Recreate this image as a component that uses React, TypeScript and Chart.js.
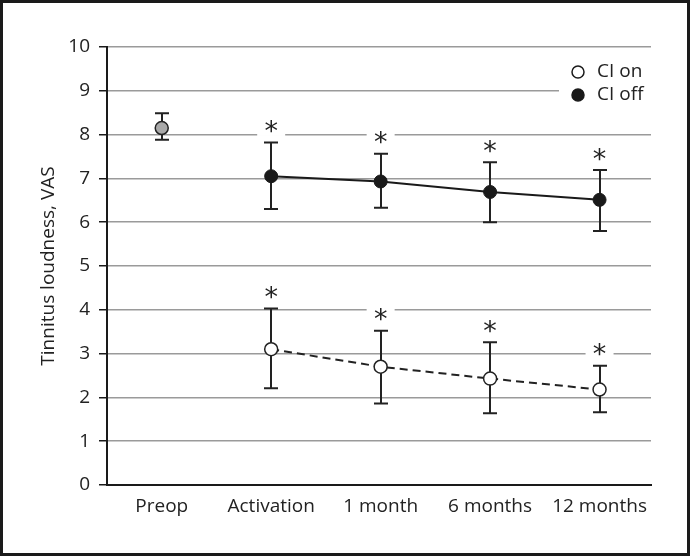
import React, { useEffect, useRef } from "react";
import { Chart, registerables } from "chart.js";

Chart.register(...registerables);

const categories = ["Preop", "Activation", "1 month", "6 months", "12 months"];
const yTicks = [0, 1, 2, 3, 4, 5, 6, 7, 8, 9, 10];

const preopMean: (number | null)[] = [8.15, null, null, null, null];
const preopUpper: (number | null)[] = [8.49, null, null, null, null];
const preopLower: (number | null)[] = [7.88, null, null, null, null];

const ciOnMean: (number | null)[] = [null, 3.1, 2.7, 2.43, 2.18];
const ciOnUpper: (number | null)[] = [null, 4.03, 3.52, 3.26, 2.72];
const ciOnLower: (number | null)[] = [null, 2.21, 1.86, 1.64, 1.66];

const ciOffMean: (number | null)[] = [null, 7.05, 6.93, 6.69, 6.51];
const ciOffUpper: (number | null)[] = [null, 7.82, 7.56, 7.37, 7.19];
const ciOffLower: (number | null)[] = [null, 6.3, 6.33, 6.0, 5.8];

const ciOnSignificant = [false, true, true, true, true];
const ciOffSignificant = [false, true, true, true, true];

const legendLabels = ["CI on", "CI off"];
const yTitle = "Tinnitus loudness, VAS";

const FONT = "'Open Sans', 'Noto Sans', sans-serif";

const toPoints = (vals: (number | null)[]) =>
  vals
    .map((v, i) => (v == null ? null : { x: i, y: v }))
    .filter((p) => p !== null) as { x: number; y: number }[];

const errorSets = [
  { upper: preopUpper, lower: preopLower, sig: [false, false, false, false, false] },
  { upper: ciOnUpper, lower: ciOnLower, sig: ciOnSignificant },
  { upper: ciOffUpper, lower: ciOffLower, sig: ciOffSignificant },
];

const decorPlugin = {
  id: "decor",
  beforeDatasetsDraw(chart: any) {
    const { ctx, scales } = chart;
    const xs = scales.x;
    const ys = scales.y;
    ctx.save();
    // asterisks with white background
    errorSets.forEach((set) => {
      set.upper.forEach((u, i) => {
        if (u == null || !set.sig[i]) return;
        const px = xs.getPixelForValue(i);
        const py = ys.getPixelForValue(u) - 15.5;
        ctx.fillStyle = "#ffffff";
        ctx.fillRect(px - 14, py - 9, 28, 18);
        ctx.fillStyle = "#222";
        ctx.font = `27px 'DejaVu Sans', sans-serif`;
        ctx.textAlign = "center";
        ctx.textBaseline = "alphabetic";
        ctx.fillText("*", px, py + 13);
      });
    });
    // error bars
    ctx.strokeStyle = "#222";
    ctx.lineWidth = 2;
    errorSets.forEach((set) => {
      set.upper.forEach((u, i) => {
        const l = set.lower[i];
        if (u == null || l == null) return;
        const px = Math.round(xs.getPixelForValue(i));
        const pu = ys.getPixelForValue(u);
        const pl = ys.getPixelForValue(l);
        ctx.beginPath();
        ctx.moveTo(px, pu);
        ctx.lineTo(px, pl);
        ctx.moveTo(px - 7, pu);
        ctx.lineTo(px + 7, pu);
        ctx.moveTo(px - 7, pl);
        ctx.lineTo(px + 7, pl);
        ctx.stroke();
      });
    });
    ctx.restore();
  },
  afterDraw(chart: any) {
    const { ctx, chartArea } = chart;
    ctx.save();
    // legend box
    const bx = chartArea.right - 92;
    ctx.fillStyle = "#ffffff";
    ctx.fillRect(bx, 56, 92, 54);
    const entries = [
      { label: legendLabels[0], fill: "#ffffff", y: 72 },
      { label: legendLabels[1], fill: "#1a1a1a", y: 95 },
    ];
    entries.forEach((e) => {
      ctx.beginPath();
      ctx.arc(578, e.y, 6, 0, Math.PI * 2);
      ctx.fillStyle = e.fill;
      ctx.fill();
      ctx.lineWidth = 1.5;
      ctx.strokeStyle = "#1a1a1a";
      ctx.stroke();
      ctx.fillStyle = "#222";
      ctx.font = `19px ${FONT}`;
      ctx.textAlign = "left";
      ctx.textBaseline = "middle";
      ctx.fillText(e.label, 597, e.y);
    });
    ctx.restore();
  },
};

export default function App() {
  const canvasRef = useRef<HTMLCanvasElement | null>(null);

  useEffect(() => {
    document.body.style.margin = "0";
    const canvas = canvasRef.current;
    if (!canvas) return;
    const chart = new Chart(canvas, {
      type: "line",
      data: {
        datasets: [
          {
            label: "Preop",
            data: toPoints(preopMean),
            showLine: false,
            pointRadius: 6.5,
            pointBackgroundColor: "#a9a9a9",
            pointBorderColor: "#222",
            pointBorderWidth: 1.5,
          },
          {
            label: legendLabels[0],
            data: toPoints(ciOnMean),
            borderColor: "#222",
            borderWidth: 2,
            borderDash: [8, 5],
            pointRadius: 6.5,
            pointBackgroundColor: "#ffffff",
            pointBorderColor: "#222",
            pointBorderWidth: 1.5,
            tension: 0,
          },
          {
            label: legendLabels[1],
            data: toPoints(ciOffMean),
            borderColor: "#1a1a1a",
            borderWidth: 2,
            pointRadius: 6.5,
            pointBackgroundColor: "#1a1a1a",
            pointBorderColor: "#1a1a1a",
            pointBorderWidth: 1,
            tension: 0,
          },
        ],
      },
      options: {
        responsive: false,
        animation: false,
        events: [],
        layout: { padding: { top: 47, left: 0, right: 39, bottom: 0 } },
        plugins: {
          legend: { display: false },
          tooltip: { enabled: false },
        },
        scales: {
          x: {
            type: "linear",
            min: -0.5,
            max: 4.47,
            grid: { display: false, drawTicks: false },
            border: { display: true, color: "#1a1a1a", width: 2 },
            afterBuildTicks: (axis: any) => {
              axis.ticks = categories.map((_, i) => ({ value: i }));
            },
            afterFit: (scale: any) => {
              scale.height = 71;
            },
            ticks: {
              autoSkip: false,
              maxRotation: 0,
              padding: 10,
              color: "#222",
              font: { family: FONT, size: 19 },
              callback: (v: any) => categories[v as number] ?? "",
            },
          },
          y: {
            min: 0,
            max: 10,
            afterBuildTicks: (axis: any) => {
              axis.ticks = yTicks.map((v) => ({ value: v }));
            },
            afterFit: (scale: any) => {
              scale.width = 107;
            },
            grid: {
              color: "#9a9a9a",
              lineWidth: 1.5,
              tickColor: "#1a1a1a",
              tickLength: 8,
              tickWidth: 1.5,
            },
            border: { display: true, color: "#1a1a1a", width: 2 },
            ticks: {
              padding: 9,
              color: "#222",
              font: { family: FONT, size: 19 },
            },
            title: {
              display: true,
              text: yTitle,
              color: "#222",
              font: { family: FONT, size: 19 },
              padding: { top: 37, bottom: 0 },
            },
          },
        },
      },
      plugins: [decorPlugin],
    });
    return () => chart.destroy();
  }, []);

  return (
    <div style={{ position: "relative", width: 690, height: 556, background: "#fff" }}>
      <canvas ref={canvasRef} width={690} height={556} style={{ display: "block" }} />
      <div
        style={{
          position: "absolute",
          left: 0,
          top: 0,
          width: 690,
          height: 556,
          boxSizing: "border-box",
          border: "3px solid #1a1a1a",
          pointerEvents: "none",
        }}
      />
    </div>
  );
}
